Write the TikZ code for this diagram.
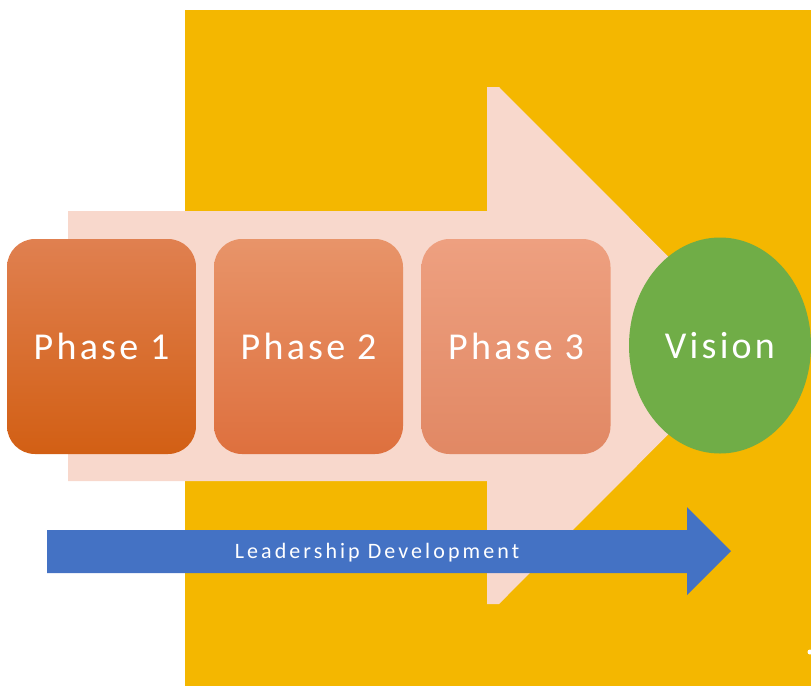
\documentclass[tikz,border=0pt]{standalone}
\usepackage{fontspec}
\usetikzlibrary{shapes.geometric}
\setmainfont{Carlito}
\newfontfamily\phasefont[LetterSpace=8.5]{Carlito}
\newfontfamily\leadfont[LetterSpace=14]{Carlito}

\definecolor{goldbg}{RGB}{244,183,0}
\definecolor{pinkarrow}{RGB}{248,216,204}
\definecolor{leadblue}{RGB}{68,114,196}
\definecolor{visiongreen}{RGB}{112,173,71}
\definecolor{phtopA}{RGB}{224,128,80}
\definecolor{phmidA}{RGB}{222,110,40}
\definecolor{phbotA}{RGB}{210,95,20}
\definecolor{phtopB}{RGB}{232,148,105}
\definecolor{phmidB}{RGB}{234,132,82}
\definecolor{phbotB}{RGB}{222,112,62}
\definecolor{phtopC}{RGB}{238,160,128}
\definecolor{phmidC}{RGB}{243,160,120}
\definecolor{phbotC}{RGB}{225,136,100}

\begin{document}
\begin{tikzpicture}[x=1pt, y=-1pt,
        phase/.style={rounded corners=28pt, minimum width=189pt, minimum height=215pt,
            inner sep=0pt, text=white, font=\phasefont\fontsize{38}{40}\selectfont}]
    \useasboundingbox (0,0) rectangle (811,686);
    % background panel and the big arrow behind the phases
    \fill[goldbg] (185,10) rectangle (811,686);
    \fill[pinkarrow] (68,211) -- (487,211) -- (487,87) -- (499,87) -- (757,345.5)
        -- (499,604) -- (487,604) -- (487,481) -- (68,481) -- cycle;
    % phases
    \foreach \x/\c [count = \i] in {101.5/A, 308.5/B, 516/C}
        {
            \node[phase, top color=phtop\c, middle color=phmid\c, bottom color=phbot\c]
                (phase\i) at (\x,346.5) {Phase \i};
        }
    \node[ellipse, fill=visiongreen, minimum width=182pt, minimum height=216pt, inner sep=0pt,
        text=white, font=\phasefont\fontsize{38}{40}\selectfont] (vision) at (720,345.5) {Vision};
    % leadership arrow
    \fill[leadblue] (47,530) -- (687,530) -- (687,507) -- (731,551) -- (687,595)
        -- (687,573) -- (47,573) -- cycle;
    \node[text=white, font=\leadfont\fontsize{22}{24}\selectfont] (lead) at (377,552.5) {Leadership Development};
    \fill[white] (810,652) circle (2.5pt);
\end{tikzpicture}
\end{document}
